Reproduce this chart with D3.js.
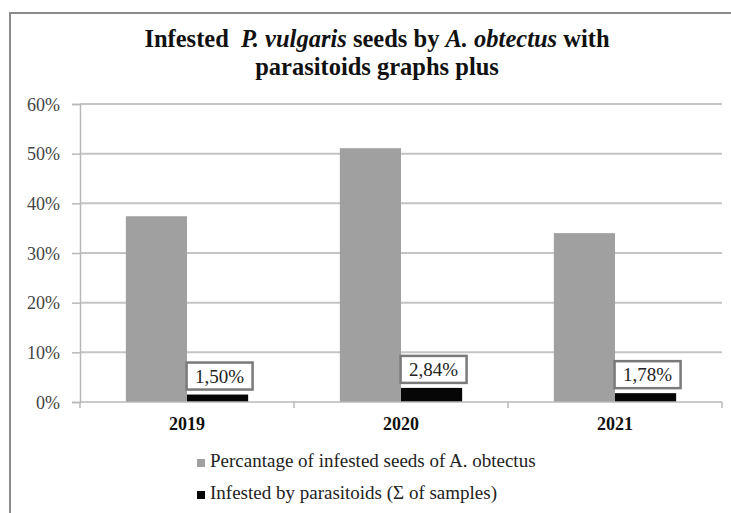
<!DOCTYPE html>
<html>
<head>
<meta charset="utf-8">
<script src="https://cdn.jsdelivr.net/npm/d3@7"></script>
<style>
  body { margin: 0; background: #fff; }
</style>
</head>
<body>
<svg id="chart" width="731" height="513"></svg>
<script>
var years = ['2019', '2020', '2021']
var infested = [0.374, 0.511, 0.340]
var parasitoids = [0.0150, 0.0284, 0.0178]
var labels = ['1,50%', '2,84%', '1,78%']
var seriesNames = ['Percantage of infested seeds of A. obtectus', 'Infested by parasitoids (\u03A3 of samples)']
var yTicks = [0, 0.1, 0.2, 0.3, 0.4, 0.5, 0.6]

;(function (d3) {
  var svg = d3.select('#chart')
  var serif = '"Liberation Serif", "Times New Roman", serif'
  var left = 80
  var right = 722
  var top = 104
  var bottom = 402

  var colors = ['#a0a0a0', '#060606']

  // outer frame, runs off the right and bottom edge
  svg.append('rect')
      .attr('x', 10).attr('y', 13)
      .attr('width', 760).attr('height', 560)
      .attr('fill', '#fff')
      .attr('stroke', '#8a8a8a')
      .attr('stroke-width', 2)

  var title = svg.append('text')
      .attr('text-anchor', 'middle')
      .style('font-family', serif)
      .style('font-weight', 'bold')
      .style('font-size', '24.5px')
      .attr('fill', '#111')
  var l1 = title.append('tspan').attr('x', 377).attr('y', 47)
  l1.append('tspan').text('Infested \u00a0')
  l1.append('tspan').style('font-style', 'italic').text('P. vulgaris')
  l1.append('tspan').text(' seeds by ')
  l1.append('tspan').style('font-style', 'italic').text('A. obtectus')
  l1.append('tspan').text(' with')
  title.append('tspan').attr('x', 377).attr('y', 75).text('parasitoids graphs plus')

  var y = d3.scaleLinear().domain([0, 0.6]).range([bottom, top])
  var x0 = d3.scaleBand().domain(years).range([left, right])
  var x1 = d3.scaleBand().domain([0, 1]).range([0, x0.bandwidth()]).paddingOuter(0.75)

  // gridlines
  svg.append('g')
      .selectAll('line')
      .data(yTicks.slice(1))
      .join('line')
      .attr('x1', left).attr('x2', right)
      .attr('y1', d => y(d)).attr('y2', d => y(d))
      .attr('stroke', '#c4c4c4')
      .attr('stroke-width', 2)

  var yAxis = svg.append('g')
      .attr('transform', `translate(${left},0)`)
      .call(d3.axisLeft(y).tickValues(yTicks).tickSize(8).tickPadding(12)
        .tickFormat(d => Math.round(d * 100) + '%'))
  yAxis.select('.domain').attr('stroke', '#b8b8b8').attr('stroke-width', 1.5)
  yAxis.selectAll('.tick line').attr('stroke', '#b8b8b8').attr('stroke-width', 1.5)
  yAxis.selectAll('.tick text')
      .style('font-family', serif)
      .style('font-size', '18px')
      .attr('fill', '#444')
      .attr('dy', '0.35em')

  var bars = [infested, parasitoids]
  bars.forEach(function (vals, s) {
    svg.append('g')
        .selectAll('rect')
        .data(years)
        .join('rect')
        .attr('x', (d) => x0(d) + x1(s))
        .attr('y', (d, i) => y(vals[i]))
        .attr('width', x1.bandwidth())
        .attr('height', (d, i) => bottom - y(vals[i]))
        .attr('fill', colors[s])
  })

  // x axis
  var xAxis = svg.append('g')
      .attr('transform', `translate(0,${bottom})`)
  xAxis.append('line')
      .attr('x1', left).attr('x2', right)
      .attr('stroke', '#b8b8b8').attr('stroke-width', 1.5)
  xAxis.selectAll('line.tk')
      .data(years.concat(['end']))
      .join('line')
      .attr('class', 'tk')
      .attr('x1', (d, i) => i < years.length ? x0(d) : right)
      .attr('x2', (d, i) => i < years.length ? x0(d) : right)
      .attr('y2', 6)
      .attr('stroke', '#b8b8b8').attr('stroke-width', 1.5)
  xAxis.selectAll('text')
      .data(years)
      .join('text')
      .attr('x', d => x0(d) + x0.bandwidth() / 2)
      .attr('y', 28)
      .attr('text-anchor', 'middle')
      .style('font-family', serif)
      .style('font-weight', 'bold')
      .style('font-size', '18px')
      .attr('fill', '#111')
      .text(d => d)

  // data labels on the parasitoid bars
  var lab = svg.append('g')
      .selectAll('g')
      .data(years)
      .join('g')
      .attr('transform', (d, i) => `translate(${x0(d) + x1(1) + x1.bandwidth() / 2 + 2},${y(parasitoids[i]) - 19})`)
  lab.append('rect')
      .attr('x', -33).attr('y', -13)
      .attr('width', 66).attr('height', 27)
      .attr('fill', '#fff')
      .attr('stroke', '#7a7a7a')
      .attr('stroke-width', 2.5)
  lab.append('text')
      .attr('text-anchor', 'middle')
      .attr('dy', '0.38em')
      .style('font-family', serif)
      .style('font-size', '19px')
      .attr('fill', '#222')
      .text((d, i) => labels[i])

  // legend
  var leg = svg.append('g')
      .selectAll('g')
      .data(seriesNames)
      .join('g')
      .attr('transform', (d, i) => `translate(197,${467 + i * 32})`)
  leg.append('rect')
      .attr('x', 0).attr('y', -8)
      .attr('width', 8).attr('height', 8)
      .attr('fill', (d, i) => colors[i])
  leg.append('text')
      .attr('x', 13)
      .style('font-family', serif)
      .style('font-size', '19px')
      .attr('fill', '#222')
      .text(d => d)
})(window.d3)
</script>
</body>
</html>
